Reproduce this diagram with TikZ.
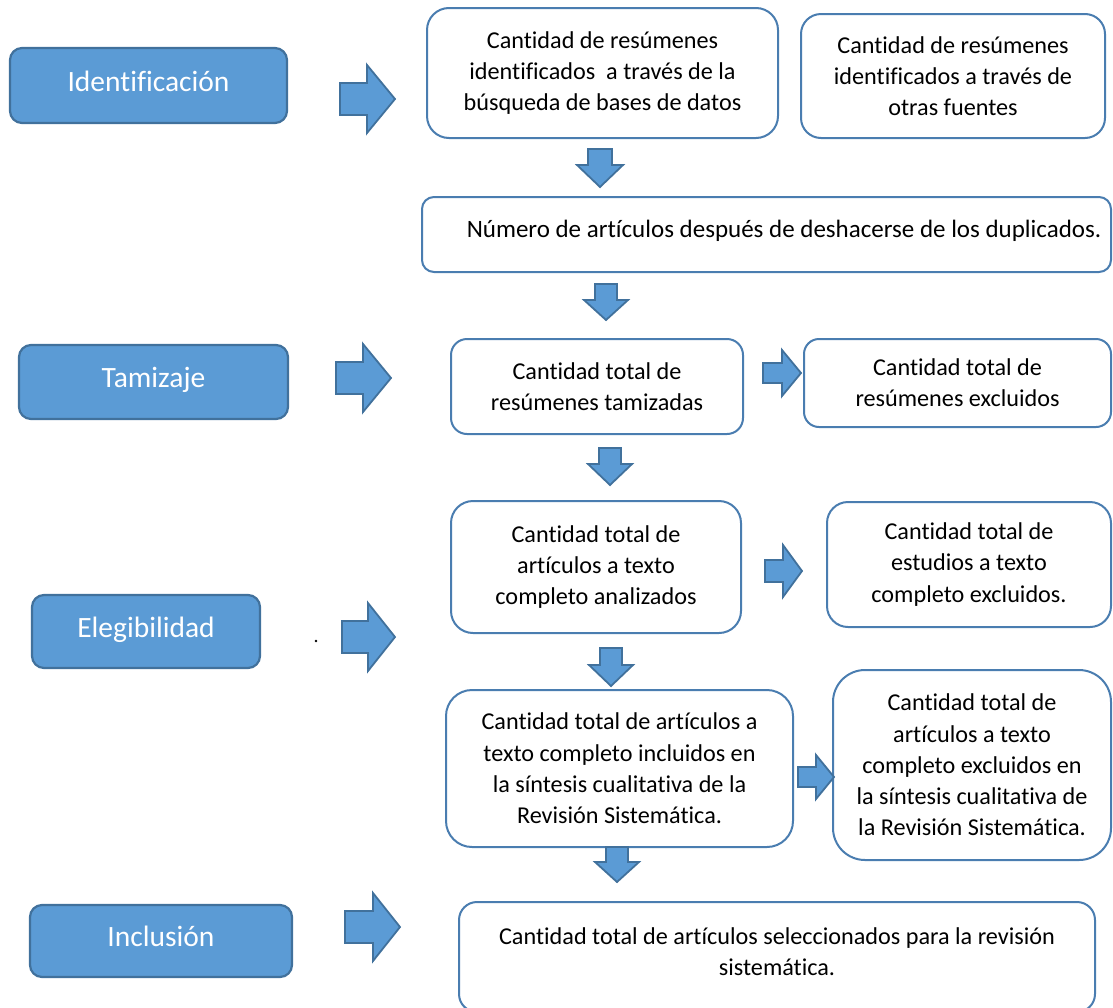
\documentclass[tikz,border=0pt]{standalone}
\usepackage{fontspec}
\setmainfont{Carlito}[Ligatures=NoCommon]
\definecolor{fillblue}{HTML}{5B9BD5}
\definecolor{edgeblue}{HTML}{41719C}
\definecolor{boxedge}{HTML}{4A7DB0}
\newcommand\rarrowat[6]{% x0 x1 yc hw sw hl
  \draw[barrow] ({#1},{#3-#5}) -- ({#2-#6},{#3-#5}) -- ({#2-#6},{#3-#4}) -- ({#2},{#3})
    -- ({#2-#6},{#3+#4}) -- ({#2-#6},{#3+#5}) -- ({#1},{#3+#5}) -- cycle;}
\newcommand\darrowat[6]{% xc y0 y1 hw sw hl
  \draw[barrow] ({#1-#5},{#2}) -- ({#1-#5},{#3-#6}) -- ({#1-#4},{#3-#6}) -- ({#1},{#3})
    -- ({#1+#4},{#3-#6}) -- ({#1+#5},{#3-#6}) -- ({#1+#5},{#2}) -- cycle;}
\newcommand\wboxat[7]{% name x0 y0 x1 y1 radius text
  \node[wbox, rounded corners=#6, minimum width={#4-#2}, minimum height={#5-#3}]
    (#1) at ({(#2+#4)/2},{(#3+#5)/2}) {#7};}
\newcommand\lboxat[6]{% name x0 y0 x1 y1 text
  \node[lbox, minimum width={#4-#2}, minimum height={#5-#3}]
    (#1) at ({(#2+#4)/2},{(#3+#5)/2}) {\raisebox{-5.5pt}[0pt][0pt]{#6}};}
\begin{document}
\begin{tikzpicture}[x=1pt,y=-1pt,
  wbox/.style={draw=boxedge, line width=2pt, fill=white, align=center,
    font=\fontsize{24.2}{31.3}\selectfont, inner sep=0pt},
  lbox/.style={draw=edgeblue, line width=2.2pt, fill=fillblue, text=white,
    font=\fontsize{29.5}{34}\selectfont, rounded corners=12pt, inner sep=0pt},
  barrow/.style={draw=edgeblue, line width=1.8pt, fill=fillblue, line join=miter},
  plain/.style={align=center, font=\fontsize{24.2}{31.3}\selectfont, inner sep=0pt}]
\useasboundingbox (0,0) rectangle (1113,1007);

% stage labels
\lboxat{ident}{10}{48}{287}{123}{Identificación}
\lboxat{tamiz}{19}{345}{288}{419}{Tamizaje}
\lboxat{elegi}{32}{595}{260}{668}{Elegibilidad}
\lboxat{inclu}{30}{905}{292}{977}{Inclusión}

% white boxes
\wboxat{bases}{427}{8}{778}{138}{22pt}{Cantidad de resúmenes\\identificados\ \ a través de la\\búsqueda de bases de datos}
\wboxat{otras}{801}{14}{1105}{138}{20pt}{Cantidad de resúmenes\\identificados a través de\\otras fuentes}
\wboxat{dupl}{422}{197}{1111}{272}{12pt}{}
\node[plain, font=\fontsize{25}{31.3}\selectfont] (dupltext) at (784,231) {Número de artículos después de deshacerse de los duplicados.};
\wboxat{tamizadas}{451}{339}{743}{434}{16pt}{Cantidad total de\\resúmenes tamizadas}
\wboxat{excl1}{804}{339}{1111}{427}{15pt}{Cantidad total de\\resúmenes excluidos}
\wboxat{analiz}{451}{501}{741}{633}{22pt}{Cantidad total de\\artículos a texto\\completo analizados}
\wboxat{excl2}{827}{502}{1111}{627}{21pt}{Cantidad total de\\estudios a texto\\completo excluidos.}
\wboxat{incl}{446}{690}{793}{847}{26pt}{Cantidad total de artículos a\\texto completo incluidos en\\la síntesis cualitativa de la\\Revisión Sistemática.}
\wboxat{excl3}{833}{670}{1111}{860}{32pt}{Cantidad total de\\artículos a texto\\completo excluidos en\\la síntesis cualitativa de\\la Revisión Sistemática.}
\wboxat{final}{459}{902}{1095}{1012}{18pt}{}
\node[plain] (finaltext) at (777,952) {Cantidad total de artículos seleccionados para la revisión\\sistemática.};

% block arrows from stage labels
\rarrowat{340}{395}{99}{34}{16}{28}
\rarrowat{336}{391}{378}{34}{16}{28}
\rarrowat{342}{395}{637}{34}{16}{27}
\rarrowat{345}{400}{927}{34}{16}{27}

% down arrows
\darrowat{600}{149}{187}{23}{12}{22}
\darrowat{606}{284}{320}{22}{11}{20}
\darrowat{610}{448}{485}{22}{11}{21}
\darrowat{611}{648}{686}{22}{11}{21}
\darrowat{617}{847}{882}{22}{11}{20}

% small right arrows
\rarrowat{763}{801}{373}{23}{10}{19}
\rarrowat{765}{802}{571}{26}{11}{19}
\rarrowat{798}{834}{777}{22}{10}{18}

% stray dot
\fill (316,641) circle (1.4);
\end{tikzpicture}
\end{document}
